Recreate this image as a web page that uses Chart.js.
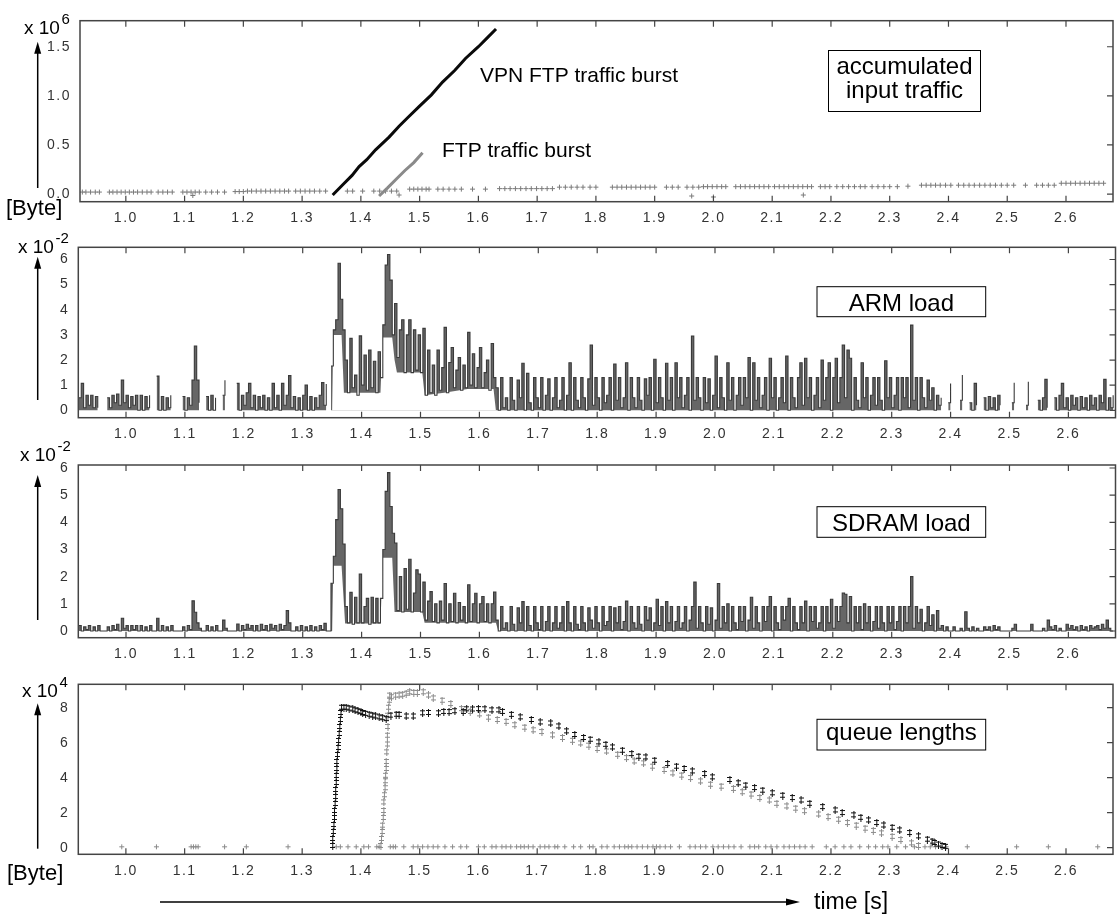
<!DOCTYPE html>
<html>
<head>
<meta charset="utf-8">
<title>VPN / FTP traffic burst</title>
<script src="https://cdn.jsdelivr.net/npm/chart.js@4.4.1/dist/chart.umd.min.js"></script>
<style>
  html, body { margin: 0; padding: 0; background: #fff; }
  #page { position: relative; width: 1118px; height: 916px; overflow: hidden; }
  #page canvas { position: absolute; left: 0; top: 0; }
</style>
</head>
<body>
<div id="page">
  <canvas id="inputChart" width="1118" height="916"></canvas>
  <canvas id="armChart" width="1118" height="916"></canvas>
  <canvas id="sdramChart" width="1118" height="916"></canvas>
  <canvas id="queueChart" width="1118" height="916"></canvas>
</div>
<script>
// tick labels
const timeTicks = [1.0, 1.1, 1.2, 1.3, 1.4, 1.5, 1.6, 1.7, 1.8, 1.9, 2.0, 2.1, 2.2, 2.3, 2.4, 2.5, 2.6];
const byteTicks = [0, 0.5, 1.0, 1.5];      // x 10^6
const loadTicks = [0, 1, 2, 3, 4, 5, 6];   // x 10^-2
const queueTicks = [0, 2, 4, 6, 8];        // x 10^4

// accumulated input traffic (x 10^6 Byte)
const vpnTime  = [1.352, 1.37, 1.385, 1.397, 1.41, 1.425, 1.448, 1.465, 1.48, 1.499, 1.52, 1.539, 1.56, 1.578, 1.6, 1.615, 1.63];
const vpnBytes = [-0.01, 0.10, 0.19, 0.28, 0.35, 0.45, 0.58, 0.69, 0.78, 0.89, 1.01, 1.14, 1.26, 1.38, 1.50, 1.59, 1.68];
const ftpTime  = [1.431, 1.445, 1.46, 1.475, 1.49, 1.505];
const ftpBytes = [-0.02, 0.06, 0.15, 0.24, 0.32, 0.42];
const otherInput = [
  [0.926,0.02],[0.932,0.02],[0.94,0.02],[0.948,0.02],[0.955,0.02],
  [0.972,0.02],[0.978,0.02],[0.985,0.02],[0.992,0.02],[0.999,0.02],[1.006,0.02],[1.013,0.02],[1.02,0.02],[1.028,0.02],[1.036,0.02],[1.043,0.02],
  [1.055,0.02],[1.063,0.02],[1.071,0.02],[1.079,0.02],
  [1.097,0.02],[1.104,0.02],[1.111,0.02],[1.118,0.02],[1.125,0.02],[1.114,-0.015],
  [1.136,0.02],[1.146,0.02],[1.156,0.02],[1.168,0.02],
  [1.186,0.025],[1.193,0.025],[1.2,0.025],[1.207,0.03],[1.214,0.03],[1.222,0.03],[1.23,0.03],[1.238,0.03],[1.246,0.03],[1.254,0.03],[1.262,0.03],[1.27,0.03],[1.277,0.03],
  [1.289,0.03],[1.297,0.03],[1.305,0.03],[1.313,0.03],[1.321,0.03],[1.33,0.03],[1.34,0.03],
  [1.377,0.03],[1.386,0.03],[1.403,0.03],[1.422,0.03],[1.432,0.03],[1.442,0.03],[1.452,0.03],[1.461,0.03],[1.465,-0.01],
  [1.483,0.05],[1.49,0.05],[1.497,0.05],[1.504,0.05],[1.511,0.05],[1.516,0.05],
  [1.531,0.05],[1.54,0.05],[1.55,0.05],[1.56,0.05],[1.571,0.05],[1.59,0.05],[1.612,0.05],
  [1.636,0.055],[1.645,0.055],[1.654,0.055],[1.663,0.055],[1.672,0.055],[1.681,0.055],[1.69,0.055],[1.699,0.055],[1.708,0.055],[1.717,0.055],[1.726,0.055],
  [1.738,0.07],[1.748,0.07],[1.758,0.07],[1.768,0.07],[1.778,0.07],[1.79,0.07],[1.8,0.07],
  [1.828,0.07],[1.836,0.07],[1.844,0.07],[1.852,0.07],[1.86,0.07],[1.868,0.07],[1.876,0.07],[1.884,0.07],[1.892,0.07],[1.9,0.07],
  [1.92,0.07],[1.93,0.07],[1.94,0.07],[1.955,0.07],[1.965,0.07],[1.975,0.07],[1.963,-0.02],
  [1.983,0.075],[1.99,0.075],[1.998,0.075],[2.006,0.075],[2.014,0.075],[2.021,0.075],[2.0,-0.03],
  [2.038,0.075],[2.046,0.075],[2.054,0.075],[2.062,0.075],[2.07,0.075],[2.078,0.075],[2.086,0.075],[2.094,0.075],
  [2.104,0.075],[2.112,0.075],[2.12,0.075],[2.128,0.075],[2.136,0.075],[2.144,0.075],[2.152,0.075],[2.16,0.075],[2.167,0.075],[2.153,-0.01],
  [2.182,0.075],[2.19,0.075],[2.198,0.075],
  [2.21,0.075],[2.22,0.075],[2.23,0.075],[2.24,0.075],[2.25,0.075],[2.258,0.075],
  [2.27,0.075],[2.28,0.075],[2.29,0.075],[2.3,0.075],[2.313,0.075],[2.331,0.08],
  [2.354,0.09],[2.362,0.09],[2.37,0.09],[2.378,0.09],[2.386,0.09],[2.395,0.09],[2.404,0.09],
  [2.417,0.09],[2.426,0.09],[2.435,0.09],[2.444,0.09],[2.453,0.09],[2.462,0.09],[2.471,0.09],[2.48,0.09],[2.49,0.09],[2.5,0.09],[2.511,0.09],
  [2.531,0.09],[2.55,0.09],[2.56,0.09],[2.57,0.09],[2.58,0.09],
  [2.592,0.11],[2.6,0.11],[2.608,0.11],[2.616,0.11],[2.624,0.11],[2.632,0.11],[2.64,0.11],[2.648,0.11],[2.656,0.11],[2.664,0.11]
];

// load samples (x 10^-2), one every 4 ms from 0.920 s, one row = 0.1 s
const loadStart = 0.92;
const loadStep = 0.004;
const armLoad = [
  0.5, 1.07, 0.1, 0.6, 0.2, 0.6, 0.1, 0.55, 0.1, null, null, null, 0.5, 0.1, 0.6, 0.3, 0.65, 0.2, 1.2, 0.3, 0.6, 0.1, 0.55, 0.2, 0.6,
  0, 0.6, 0, 0.55, 0.1, 0.6, null, null, 1.36, 0, 0.55, 0, 0.5, 0.1, 0.6, null, null, null, null, 0.55, 0, 0.5, 0.2, 1.2, 2.56,
  1.2, 0.3, null, null, 0.55, 0, 0.6, 0, 0.5, null, null, 0.6, 1.2, null, null, null, null, 1.07, 0, 0.6, 0.2, 0.7, 1.07, 0.1, 0.6,
  0, 0.55, 0.1, 0.6, 0, 0.5, 0, 1.07, 0.1, 0.6, 0, 1.07, 0.2, 0.6, 1.38, 0.1, 0.55, 0, 0.5, 0, 0.6, 1.0, 0, 0.55, 0,
  0.5, 0.1, 0.6, 1.1, 0.2, 1.05, null, 1.76, 3.2, 3.6, 5.85, 4.42, 3.2, 2.0, 0.7, 2.86, 0.9, 1.4, 0.6, 2.96, 1.0, 2.2, 0.8, 2.4, 0.9,
  1.95, 0.7, 2.33, 1.3, 3.4, 5.78, 6.2, 5.18, 3.0, 4.25, 2.1, 3.2, 3.6, 1.5, 3.0, 3.6, 1.5, 3.2, 1.6, 3.0, 1.5, 3.26, 0.6, 2.4, 0.7,
  1.8, 0.6, 2.4, 0.8, 1.7, 3.3, 0.7, 1.9, 2.5, 0.9, 1.6, 2.1, 0.8, 1.8, 0.9, 3.1, 1.0, 2.25, 0.9, 1.7, 2.5, 0.9, 1.5, 2.0, 0.8,
  2.66, 1.3, 0.9, 0, 1.3, 0.1, 0.5, 0, 1.3, 0.4, 0, 1.2, 0.5, 1.87, 0, 1.47, 0.3, 0, 1.3, 0.5, 0.1, 1.3, 0, 0.6, 1.25,
  0, 0.5, 1.3, 0.1, 0.4, 1.3, 0, 0.6, 1.89, 0, 1.3, 0.4, 0.1, 1.3, 0.5, 0, 1.25, 2.6, 0.2, 1.3, 0.5, 0, 1.3, 0.3, 0.6,
  1.3, 0, 1.84, 0.4, 1.3, 0.1, 0.5, 1.89, 0, 1.3, 0.5, 0.1, 1.3, 0.4, 0, 1.25, 0.6, 1.3, 0, 2.03, 0.3, 1.3, 0.5, 0, 1.87,
  0.4, 1.3, 0, 1.89, 0.5, 1.3, 0.1, 0.6, 1.3, 0, 2.95, 0.4, 1.3, 0.5, 0, 1.3, 0.3, 1.25, 0, 0.6, 2.16, 0.1, 1.3, 0.5, 0,
  1.89, 0.4, 1.3, 0, 0.6, 1.3, 0.2, 1.3, 0.5, 2.1, 0, 1.89, 0.4, 1.3, 0.1, 0.6, 1.3, 0, 2.07, 0.5, 1.3, 0, 0.5, 1.3, 0.3,
  2.16, 0, 1.3, 0.5, 0.1, 1.3, 1.89, 0.2, 2.07, 0.5, 1.3, 0, 0.6, 1.3, 0.1, 2.0, 0.4, 1.3, 1.89, 0, 1.3, 2.07, 0.3, 1.3, 2.6,
  0.5, 2.4, 2.07, 0, 1.3, 0.4, 0.1, 1.89, 0.5, 1.3, 0, 0.6, 1.3, 0.2, 1.3, 0.4, 0, 1.97, 0.5, 1.3, 0.1, 0.6, 1.3, 0, 1.3,
  0.5, 1.3, 0.1, 3.39, 0.4, 1.3, 0, 1.3, 0.5, 0.1, 1.2, 0.4, 0.9, 0, 0.6, 0.2, 0.5, null, null, 0.3, 1.07, null, null, null, 0.4,
  1.4, null, null, 0.3, 0, 1.07, 0.2, null, null, 0.5, 0, 0.55, 0.1, 0.5, 0, 0.6, 0.2, null, null, null, null, 0.3, 1.1, null, null,
  null, null, 0.2, 1.14, null, null, null, 0.4, 0, 0.5, 1.23, 0.1, null, null, 0.5, 0, 0.6, 1.07, 0.1, 0.5, 0, 0.6, 0.2, 0.5, 0,
  0.55, 0.1, 0.5, 0, 0.6, 0.2, 0.5, 0, 0.6, 0.3, 1.23, 0, 0.5, 0.1, 0.6
];
const sdramLoad = [
  0.2, 0, 0.15, 0.05, 0.2, 0, 0.15, 0, 0.2, 0, 0, 0, 0.15, 0, 0.2, 0.05, 0.25, 0, 0.47, 0.1, 0.2, 0, 0.2, 0.05, 0.2,
  0, 0.2, 0, 0.15, 0, 0.2, 0, 0, 0.47, 0, 0.2, 0, 0.15, 0, 0.2, 0, 0, 0, 0, 0.15, 0, 0.2, 0.05, 1.11, 0.69,
  0.3, 0.1, 0, 0, 0.2, 0, 0.15, 0, 0.2, 0, 0, 0.4, 0.1, 0, 0, 0, 0, 0.26, 0, 0.2, 0.05, 0.25, 0.1, 0.2, 0,
  0.2, 0, 0.25, 0.05, 0.2, 0, 0.25, 0.1, 0.2, 0, 0.25, 0.05, 0.2, 0.75, 0.3, 0, 0, 0.15, 0, 0.2, 0, 0.15, 0, 0.2, 0,
  0.15, 0, 0.2, 0.05, 0.28, 0, 0, 1.76, 2.75, 4.1, 5.21, 4.5, 3.2, 0.9, 0.3, 1.42, 0.25, 1.24, 0.3, 2.1, 0.3, 0.9, 1.2, 0.25, 1.24,
  0.3, 1.2, 0.3, 1.2, 3.0, 5.14, 5.83, 4.58, 3.6, 3.24, 0.75, 2.0, 0.7, 2.3, 0.8, 2.64, 0.7, 1.4, 2.25, 2.1, 0.7, 1.8, 0.4, 1.1, 1.45,
  0.35, 1.0, 0.3, 1.1, 0.4, 1.75, 0.3, 1.0, 0.35, 1.39, 0.3, 1.05, 0.4, 0.9, 0.3, 1.7, 0.35, 1.0, 1.39, 0.3, 1.0, 1.27, 0.35, 1.0, 0.3,
  1.0, 1.43, 0.4, 0, 0.9, 0.1, 0.3, 0, 0.9, 0.25, 0, 0.85, 0.3, 1.08, 0, 0.9, 0.2, 0, 0.9, 0.3, 0.05, 0.9, 0, 0.35, 0.9,
  0, 0.3, 0.9, 0.1, 0.3, 0.9, 0, 1.08, 0.3, 0, 0.9, 0.25, 0.05, 0.9, 0.3, 0, 0.85, 0.4, 0.1, 0.9, 0.3, 0, 0.9, 0.2, 0.35,
  0.9, 0, 0.85, 0.3, 0.9, 0.05, 0.35, 1.1, 0, 0.9, 0.3, 0.1, 0.9, 0.25, 0, 0.9, 0.4, 0.85, 0, 0.3, 1.17, 0.2, 0.9, 0, 1.08,
  0.3, 0.9, 0, 0.35, 0.9, 0.1, 0.3, 0.9, 0, 0.4, 0.9, 1.8, 0.1, 0.9, 0.3, 0, 0.9, 0.25, 0.85, 0, 0.4, 1.75, 0.1, 0.9, 0.3,
  1.0, 0, 0.9, 0.3, 0.05, 0.9, 0.35, 0.9, 0, 0.4, 1.24, 0.1, 0.9, 0.3, 0, 0.9, 0.35, 0.9, 1.27, 0, 0.9, 0.3, 0.05, 0.9, 0.4,
  0.9, 1.2, 0, 0.9, 0.3, 0.05, 0.9, 0.3, 1.1, 0, 0.9, 0.35, 0.9, 0.1, 0.3, 0.9, 0, 0.9, 0.3, 1.17, 0.1, 0.9, 0.35, 0.9, 1.4,
  1.35, 0.3, 1.27, 0, 0.9, 0.3, 0.9, 0.05, 1.0, 0.3, 0.9, 0, 0.35, 0.9, 0.1, 0.9, 0.3, 0, 0.9, 0.3, 0.9, 0.05, 0.35, 0.9, 0,
  0.9, 0.3, 0.9, 2.0, 0.1, 0.9, 0.3, 0.8, 0, 0.3, 0.9, 0.2, 0.6, 0, 0.75, 0.1, 0.2, 0, 0.15, 0, 0, 0.15, 0, 0, 0.1,
  0, 0.71, 0.1, 0, 0.15, 0, 0.1, 0, 0, 0.15, 0.05, 0.15, 0, 0.2, 0.05, 0.15, 0, 0, 0, 0, 0, 0.1, 0.25, 0, 0,
  0, 0, 0, 0, 0.25, 0, 0, 0, 0, 0.1, 0, 0.4, 0.15, 0.05, 0.2, 0, 0.1, 0, 0, 0.25, 0.1, 0.2, 0.05, 0.15, 0,
  0.2, 0.05, 0.15, 0, 0.2, 0.1, 0.15, 0.2, 0.05, 0.25, 0.1, 0.4, 0.1, 0, 0
];
// lower edge of the dense (dark) part of each load trace
const armFloor = [
  [0.919,0],[1.35,0],[1.352,3.0],[1.366,3.0],[1.37,0.7],[1.432,0.7],[1.436,2.9],[1.452,2.9],[1.456,2.0],[1.46,1.5],
  [1.503,1.5],[1.507,0.6],[1.54,0.7],[1.58,0.85],[1.624,0.85],[1.628,0],[2.68,0]
];
const sdramFloor = [
  [0.919,0],[1.35,0],[1.352,2.4],[1.366,2.4],[1.372,0.28],[1.432,0.28],[1.436,2.7],[1.452,2.7],[1.456,0.7],
  [1.503,0.7],[1.507,0.3],[1.628,0.3],[1.632,0],[2.68,0]
];

// queue lengths (x 10^4 Byte)
const vpnQueue = [
  [1.352,0.1],[1.352,0.5],[1.353,0.9],[1.354,1.3],[1.355,1.7],[1.355,2.1],[1.356,2.5],[1.357,2.9],[1.357,3.3],[1.358,3.7],
  [1.358,4.1],[1.359,4.5],[1.359,4.9],[1.36,5.3],[1.361,5.7],[1.362,6.1],[1.363,6.5],[1.364,6.9],[1.365,7.3],[1.366,7.7],[1.367,8.0],
  [1.371,8.0],[1.375,8.0],[1.38,7.95],[1.386,7.9],[1.39,7.85],[1.395,7.8],[1.4,7.75],[1.403,7.7],[1.408,7.65],[1.414,7.6],
  [1.42,7.55],[1.425,7.5],[1.431,7.45],[1.437,7.4],[1.443,7.35],[1.451,7.55],[1.46,7.6],[1.465,7.59],[1.477,7.5],[1.489,7.5],
  [1.505,7.68],[1.515,7.7],[1.532,7.68],[1.541,7.76],[1.55,7.75],[1.56,7.8],[1.574,7.76],[1.58,7.91],[1.59,7.9],[1.6,7.92],
  [1.611,7.91],[1.623,7.85],[1.635,7.85],[1.641,7.76],[1.656,7.59],[1.671,7.45],[1.69,7.3],[1.705,7.16],[1.723,7.1],[1.737,6.93],
  [1.75,6.65],[1.764,6.44],[1.779,6.27],[1.79,6.17],[1.805,6.02],[1.817,5.88],[1.828,5.73],[1.845,5.54],[1.861,5.35],[1.873,5.2],
  [1.885,5.16],[1.9,4.97],[1.922,4.78],[1.937,4.63],[1.95,4.5],[1.964,4.36],[1.985,4.21],[1.998,4.02],[2.028,3.87],[2.042,3.68],
  [2.055,3.55],[2.07,3.41],[2.084,3.26],[2.1,3.11],[2.118,2.97],[2.134,2.84],[2.149,2.7],[2.164,2.51],[2.186,2.32],[2.207,2.13],
  [2.219,1.98],[2.239,1.85],[2.251,1.71],[2.264,1.56],[2.278,1.41],[2.29,1.27],[2.304,1.14],[2.317,0.99],[2.334,0.84],[2.349,0.65],
  [2.364,0.46],[2.372,0.35],[2.377,0.27],[2.383,0.18],[2.389,0.1],[2.395,0.05]
];
const ftpQueue = [
  [1.434,0.1],[1.435,0.5],[1.436,0.9],[1.437,1.26],[1.438,1.7],[1.439,2.1],[1.439,2.59],[1.44,3.0],[1.441,3.4],[1.441,3.8],
  [1.442,4.11],[1.443,4.5],[1.443,4.9],[1.444,5.45],[1.445,5.9],[1.445,6.4],[1.446,6.9],[1.446,7.54],[1.447,8.0],[1.448,8.4],[1.449,8.69],
  [1.452,8.6],[1.459,8.69],[1.465,8.7],[1.471,8.74],[1.477,8.8],[1.483,8.88],[1.49,8.85],[1.496,8.84],[1.506,8.88],[1.515,8.7],
  [1.523,8.53],[1.538,8.4],[1.553,8.21],[1.571,7.92],[1.586,7.76],[1.602,7.62],[1.617,7.43],[1.632,7.3],[1.647,7.19],[1.662,7.0],
  [1.679,6.86],[1.693,6.71],[1.708,6.61],[1.726,6.42],
  [1.743,6.27],[1.76,6.11],[1.774,5.96],[1.788,5.83],[1.802,5.64],[1.818,5.5],[1.837,5.31],[1.852,5.12],[1.865,4.93],[1.881,4.82],
  [1.896,4.63],[1.916,4.44],[1.931,4.25],[1.946,4.12],[1.961,3.98],[1.978,3.79],[1.995,3.6],[2.013,3.49],[2.034,3.36],[2.049,3.17],
  [2.064,3.04],[2.079,2.84],[2.095,2.7],[2.108,2.51],[2.125,2.36],[2.14,2.23],[2.155,2.09],[2.179,1.9],[2.195,1.75],[2.213,1.6],
  [2.228,1.41],[2.243,1.26],[2.258,1.09],[2.272,0.96],[2.286,0.82],[2.304,0.62],[2.319,0.44],[2.337,0.25],[2.349,0.1]
];
const otherQueue = [
  [0.993,0.05],[1.052,0.05],[1.111,0.05],[1.115,0.05],[1.119,0.05],[1.123,0.05],[1.168,0.05],[1.205,0.05],[1.276,0.05],
  [1.358,0.05],[1.365,0.05],[1.378,0.05],[1.392,0.05],[1.405,0.05],[1.413,0.05],[1.427,0.05],[1.431,0.05],
  [1.45,0.05],[1.455,0.05],[1.459,0.05],[1.473,0.05],[1.489,0.05],[1.497,0.05],[1.505,0.05],[1.514,0.05],[1.523,0.05],[1.531,0.05],
  [1.543,0.05],[1.556,0.05],[1.57,0.05],[1.58,0.05],[1.6,0.05],[1.61,0.05],[1.623,0.05],[1.63,0.05],[1.64,0.05],[1.647,0.05],
  [1.655,0.05],[1.665,0.05],[1.672,0.05],[1.678,0.05],[1.685,0.05],[1.693,0.05],[1.705,0.05],[1.713,0.05],[1.72,0.05],[1.73,0.05],
  [1.735,0.05],[1.747,0.05],[1.762,0.05],[1.774,0.05],[1.789,0.05],[1.795,0.05],[1.81,0.05],[1.819,0.05],[1.831,0.05],[1.84,0.05],
  [1.849,0.05],[1.855,0.05],[1.861,0.05],[1.87,0.05],[1.879,0.05],[1.888,0.05],[1.897,0.05],[1.903,0.05],[1.909,0.05],[1.918,0.05],
  [1.927,0.05],[1.942,0.05],[1.96,0.05],[1.969,0.05],[1.978,0.05],[1.987,0.05],[1.999,0.05],[2.008,0.05],[2.017,0.05],[2.026,0.05],
  [2.035,0.05],[2.047,0.05],[2.062,0.05],[2.07,0.05],[2.077,0.05],[2.089,0.05],[2.098,0.05],[2.108,0.05],[2.12,0.05],[2.129,0.05],
  [2.138,0.05],[2.147,0.05],[2.156,0.05],[2.168,0.05],[2.192,0.05],[2.207,0.05],[2.222,0.05],[2.234,0.05],[2.249,0.05],[2.264,0.05],
  [2.276,0.05],[2.288,0.05],[2.297,0.05],[2.312,0.05],[2.327,0.05],[2.342,0.05],[2.36,0.05],[2.369,0.05],[2.378,0.05],[2.387,0.05],
  [2.396,0.05],[2.432,0.05],[2.516,0.05],[2.57,0.05],[2.654,0.05]
];

// ---------------------------------------------------------------------------

const FONT = '"Liberation Sans", Arial, Helvetica, sans-serif';
const X_AXIS_H = 30;
Chart.defaults.font.family = FONT;

const loadTimes = armLoad.map((_, i) => Math.round((loadStart + i * loadStep) * 1000) / 1000);
const pts = (xs, ys) => xs.map((x, i) => ({ x: x, y: ys[i] }));
const pairs = list => list.map(p => ({ x: p[0], y: p[1] }));

function daggerMark(color) {
  const c = document.createElement('canvas');
  c.width = 5; c.height = 8;
  const g = c.getContext('2d');
  g.fillStyle = color;
  g.fillRect(2, 0, 1, 8);
  g.fillRect(0, 1, 5, 1);
  g.fillRect(0, 5, 5, 1);
  return c;
}

function text(ctx, str, x, y, size, align) {
  ctx.font = size + 'px ' + FONT;
  ctx.textAlign = align || 'left';
  ctx.textBaseline = 'alphabetic';
  ctx.fillStyle = '#000';
  ctx.fillText(str, x, y);
}

function expLabel(ctx, exp, x, y) {
  text(ctx, 'x 10', x, y, 19);
  const w = ctx.measureText('x 10').width;
  text(ctx, exp, x + w + 1.5, y - 10, 15);
}

function vArrow(ctx, x, yBottom, yTip) {
  ctx.strokeStyle = '#000';
  ctx.lineWidth = 1.5;
  ctx.beginPath();
  ctx.moveTo(x, yBottom);
  ctx.lineTo(x, yTip + 8);
  ctx.stroke();
  ctx.fillStyle = '#000';
  ctx.beginPath();
  ctx.moveTo(x, yTip);
  ctx.lineTo(x - 3.5, yTip + 12);
  ctx.lineTo(x + 3.5, yTip + 12);
  ctx.closePath();
  ctx.fill();
}

function hArrow(ctx, xStart, xTip, y) {
  ctx.strokeStyle = '#000';
  ctx.lineWidth = 1.5;
  ctx.beginPath();
  ctx.moveTo(xStart, y);
  ctx.lineTo(xTip - 8, y);
  ctx.stroke();
  ctx.fillStyle = '#000';
  ctx.beginPath();
  ctx.moveTo(xTip, y);
  ctx.lineTo(xTip - 14, y - 3.5);
  ctx.lineTo(xTip - 14, y + 3.5);
  ctx.closePath();
  ctx.fill();
}

function labelBox(ctx, x, y, w, h, lines, baselines) {
  ctx.fillStyle = '#fff';
  ctx.fillRect(x, y, w, h);
  ctx.strokeStyle = '#000';
  ctx.lineWidth = 1;
  ctx.strokeRect(x, y, w, h);
  lines.forEach((l, i) => text(ctx, l, x + w / 2, baselines[i], 24, 'center'));
}

function drawFrame(chart) {
  const ctx = chart.ctx;
  const a = chart.chartArea;
  const xs = chart.scales.x, ys = chart.scales.y;
  ctx.save();
  ctx.strokeStyle = '#444';
  ctx.lineWidth = 1.5;
  ctx.strokeRect(a.left, a.top, a.right - a.left, a.bottom - a.top);
  ctx.lineWidth = 1.2;
  ctx.beginPath();
  xs.ticks.forEach(t => {
    const px = xs.getPixelForValue(t.value);
    ctx.moveTo(px, a.bottom); ctx.lineTo(px, a.bottom - 6);
    ctx.moveTo(px, a.top); ctx.lineTo(px, a.top + 6);
  });
  ys.ticks.forEach(t => {
    const py = ys.getPixelForValue(t.value);
    ctx.moveTo(a.right, py); ctx.lineTo(a.right - 6, py);
  });
  ctx.stroke();
  ctx.restore();
}

function makePanel(id, area, yRange, yTicks, yFmt, datasets, decorate) {
  const tickFont = { size: 14 };
  return new Chart(document.getElementById(id), {
    type: 'scatter',
    data: { datasets: datasets },
    options: {
      responsive: false,
      animation: false,
      events: [],
      layout: {
        padding: { left: 0, right: 1118 - area.right, top: area.top, bottom: 916 - area.bottom - X_AXIS_H }
      },
      plugins: {
        legend: { display: false },
        tooltip: { enabled: false },
        filler: { drawTime: 'beforeDatasetsDraw' }
      },
      scales: {
        x: {
          type: 'linear',
          min: area.xMin,
          max: 2.68,
          afterBuildTicks: s => { s.ticks = timeTicks.map(v => ({ value: v })); },
          afterFit: s => { s.height = X_AXIS_H; },
          grid: { display: false, drawTicks: false },
          border: { display: false },
          ticks: { color: '#333', font: tickFont, padding: 8, maxRotation: 0, autoSkip: false,
                   callback: v => v.toFixed(1) }
        },
        y: {
          type: 'linear',
          min: yRange[0],
          max: yRange[1],
          afterBuildTicks: s => { s.ticks = yTicks.map(v => ({ value: v })); },
          afterFit: s => { s.width = area.left; },
          grid: { display: false, drawTicks: false },
          border: { display: false },
          ticks: { color: '#333', font: tickFont, padding: 9, callback: yFmt }
        }
      }
    },
    plugins: [{
      id: 'decor',
      beforeDraw: chart => { chart.ctx.letterSpacing = '1.5px'; },
      afterDraw: chart => {
        const ctx = chart.ctx;
        ctx.letterSpacing = '0px';
        drawFrame(chart);
        decorate(ctx);
      }
    }]
  });
}

// load trace: dark fill under the steps, the part under the dense band's lower edge left white
function loadSeries(values, floor) {
  return [
    {
      data: pairs(floor),
      showLine: true,
      borderWidth: 0,
      borderColor: 'rgba(0,0,0,0)',
      pointRadius: 0,
      fill: 'origin',
      backgroundColor: '#ffffff'
    },
    {
      data: pts(loadTimes, values),
      showLine: true,
      stepped: true,
      borderColor: '#3a3a3a',
      borderWidth: 1.1,
      fill: 'origin',
      backgroundColor: 'rgba(64,64,64,0.8)',
      pointRadius: 0,
      spanGaps: false
    }
  ];
}

// accumulated input traffic
makePanel('inputChart', { left: 80, right: 1115.5, top: 20.7, bottom: 201.7, xMin: 0.922 },
  [-0.078, 1.765], byteTicks, v => v.toFixed(1),
  [
    { data: pts(vpnTime, vpnBytes), showLine: true, borderColor: '#0a0a0a', borderWidth: 3, pointRadius: 0 },
    { data: pts(ftpTime, ftpBytes), showLine: true, borderColor: '#8a8a8a', borderWidth: 3, pointRadius: 0 },
    { data: pairs(otherInput), pointStyle: 'cross', pointRadius: 2.5, borderColor: '#7a7a7a', pointBorderWidth: 1 }
  ],
  ctx => {
    expLabel(ctx, '6', 24, 33.5);
    vArrow(ctx, 37.7, 188, 41.7);
    text(ctx, '[Byte]', 6, 215, 22);
    text(ctx, 'VPN FTP traffic burst', 480, 81.5, 21);
    text(ctx, 'FTP traffic burst', 442, 157, 21);
    labelBox(ctx, 828.5, 50.5, 152, 61, ['accumulated', 'input traffic'], [73.5, 97.5]);
  });

// ARM load
makePanel('armChart', { left: 78.3, right: 1115.5, top: 247.3, bottom: 417.7, xMin: 0.919 },
  [-0.294, 6.485], loadTicks, v => String(v),
  loadSeries(armLoad, armFloor),
  ctx => {
    expLabel(ctx, '-2', 18, 253);
    vArrow(ctx, 37.7, 400, 256.7);
    labelBox(ctx, 817, 286.7, 168.7, 30, ['ARM load'], [310.5]);
  });

// SDRAM load
makePanel('sdramChart', { left: 78.3, right: 1115.5, top: 465, bottom: 637.7, xMin: 0.919 },
  [-0.247, 6.11], loadTicks, v => String(v),
  loadSeries(sdramLoad, sdramFloor),
  ctx => {
    expLabel(ctx, '-2', 20, 461);
    vArrow(ctx, 37.7, 620, 475);
    labelBox(ctx, 817, 506.7, 168.7, 30.6, ['SDRAM load'], [530.5]);
  });

// queue lengths
makePanel('queueChart', { left: 78.3, right: 1115.5, top: 684.3, bottom: 854.3, xMin: 0.919 },
  [-0.377, 9.337], queueTicks, v => String(v),
  [
    { data: pairs(vpnQueue), pointStyle: daggerMark('#111'), pointRadius: 3 },
    { data: pairs(ftpQueue), pointStyle: daggerMark('#8c8c8c'), pointRadius: 3 },
    { data: pairs(otherQueue), pointStyle: 'cross', pointRadius: 2.5, borderColor: '#8a8a8a', pointBorderWidth: 1 }
  ],
  ctx => {
    expLabel(ctx, '4', 22, 697);
    vArrow(ctx, 37.7, 848.7, 703.3);
    labelBox(ctx, 817, 719.3, 168.7, 30.7, ['queue lengths'], [740]);
    text(ctx, '[Byte]', 7, 880, 22);
    hArrow(ctx, 160, 800, 902);
    text(ctx, 'time [s]', 814, 909, 23);
  });
</script>
</body>
</html>
